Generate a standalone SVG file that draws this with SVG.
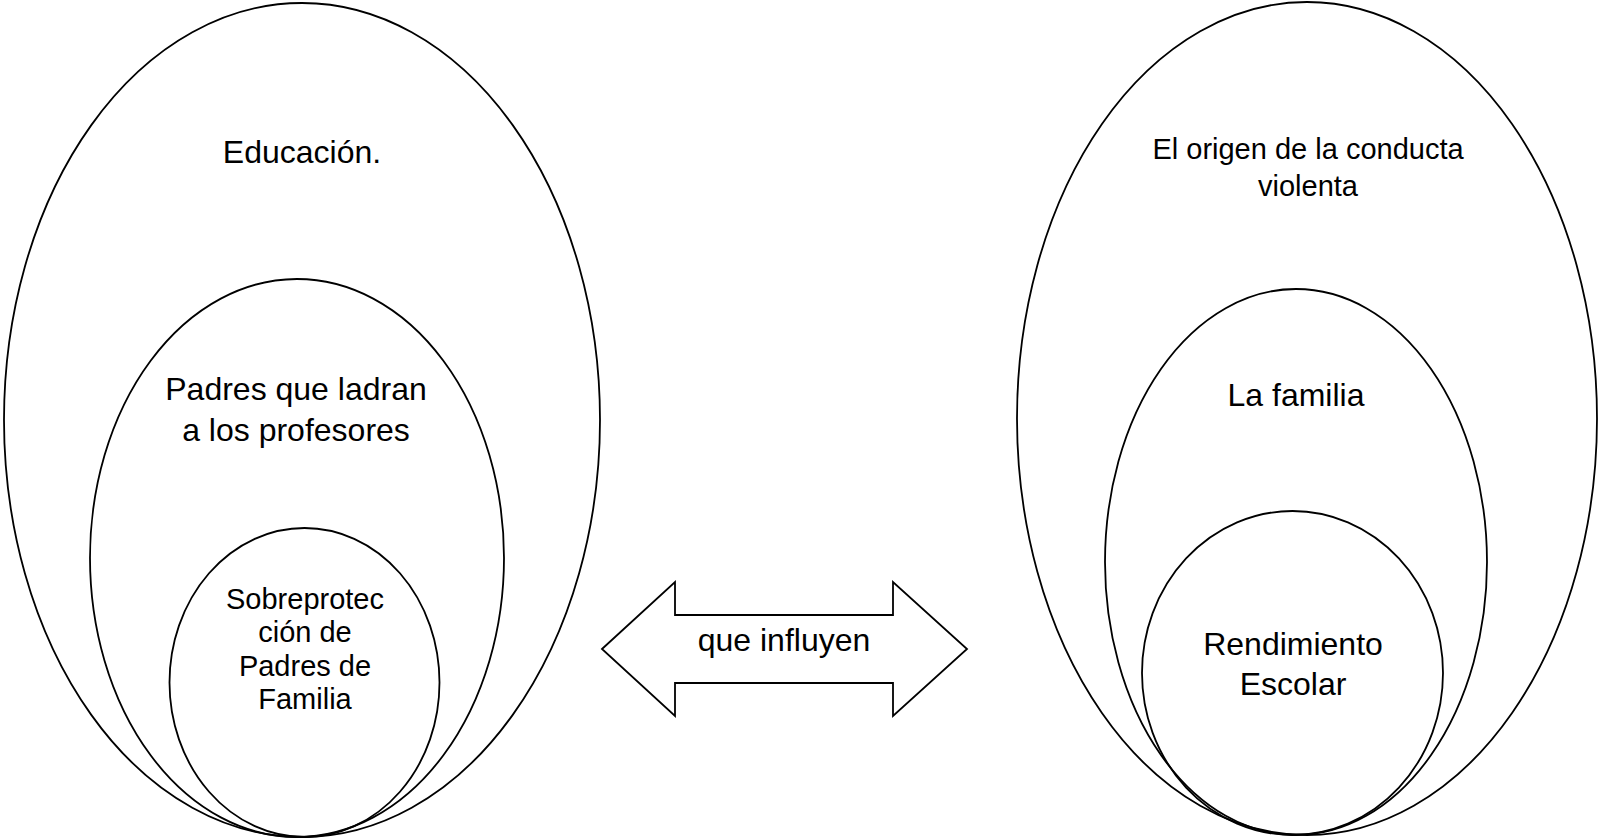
<svg xmlns="http://www.w3.org/2000/svg" width="1600" height="840" viewBox="0 0 1600 840">
<style>
.sh{fill:none;stroke:#000;stroke-width:1.8}
.t{font-family:"Liberation Sans",Arial,sans-serif;font-size:32px;fill:#000;text-anchor:middle}
.s{font-size:29px}
</style>
<rect width="1600" height="840" fill="#fff"/>
<g id="educacion">
<ellipse class="sh" cx="302" cy="420" rx="298" ry="417"/>
<text class="t" x="302" y="163">Educación.</text>
</g>
<g id="padres">
<ellipse class="sh" cx="297" cy="558" rx="207" ry="279"/>
<text class="t" x="296" y="400">Padres que ladran</text>
<text class="t" x="296" y="441">a los profesores</text>
</g>
<g id="sobreproteccion">
<ellipse class="sh" cx="304.5" cy="682.5" rx="135" ry="154.5"/>
<text class="t s" x="305" y="609">Sobreprotec</text>
<text class="t s" x="305" y="642">ción de</text>
<text class="t s" x="305" y="676">Padres de</text>
<text class="t s" x="305" y="709">Familia</text>
</g>
<g id="origen">
<ellipse class="sh" cx="1307" cy="418.5" rx="290" ry="416.5"/>
<text class="t s" x="1308" y="159">El origen de la conducta</text>
<text class="t s" x="1308" y="196">violenta</text>
</g>
<g id="familia">
<ellipse class="sh" cx="1296" cy="562" rx="191" ry="273"/>
<text class="t" x="1296" y="406">La familia</text>
</g>
<g id="rendimiento">
<ellipse class="sh" cx="1292.5" cy="673" rx="150.5" ry="162"/>
<text class="t" x="1293" y="655">Rendimiento</text>
<text class="t" x="1293" y="695">Escolar</text>
</g>
<g id="connectors">
<g id="influyen">
<polygon class="sh" points="602,649 675,582 675,615 893,615 893,582 967,649 893,716 893,683 675,683 675,716"/>
<text class="t" x="784" y="651">que influyen</text>
</g>
</g>
</svg>
